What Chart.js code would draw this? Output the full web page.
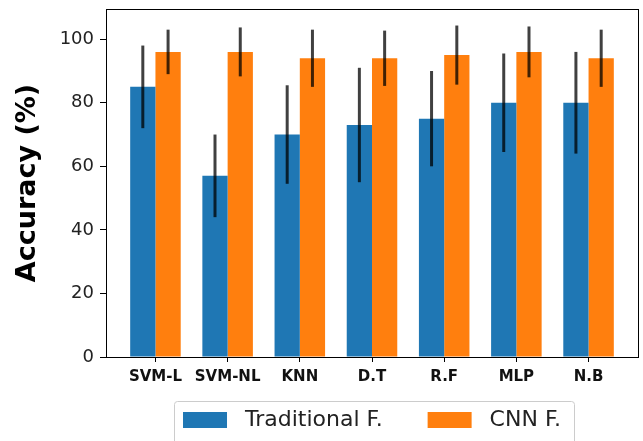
<!DOCTYPE html>
<html>
<head>
<meta charset="utf-8">
<script src="https://cdn.jsdelivr.net/npm/chart.js@4.4.0/dist/chart.umd.min.js"></script>
<style>
  html, body { margin: 0; padding: 0; background: #fff; }
  #wrap { width: 643px; height: 441px; }
</style>
</head>
<body>
<div id="wrap"><canvas id="bar-chart"></canvas></div>
<script>
const categories = ['SVM-L', 'SVM-NL', 'KNN', 'D.T', 'R.F', 'MLP', 'N.B'];
const traditional = [85, 57, 70, 73, 75, 80, 80];
const traditionalErr = [13, 13, 15.5, 18, 15, 15.5, 16];
const cnn = [96, 96, 94, 94, 95, 96, 94];
const cnnErr = [7, 7.7, 9, 8.7, 9.3, 8, 9];
const yTicks = [0, 20, 40, 60, 80, 100];

const barChart = document.getElementById('bar-chart');

function toPoints(values){
  return values.map((v, i) => ({x: i, y: v}));
}

const errorBars = {
  id: 'errorBars',
  afterDatasetsDraw(chart){
    const ctx = chart.ctx;
    const yScale = chart.scales.y;
    ctx.save();
    ctx.strokeStyle = 'rgba(0,0,0,0.75)';
    ctx.lineWidth = 3;
    chart.data.datasets.forEach((ds, d) => {
      const meta = chart.getDatasetMeta(d);
      meta.data.forEach((bar, i) => {
        const v = ds.data[i].y;
        const e = ds.errors[i];
        ctx.beginPath();
        ctx.moveTo(bar.x, yScale.getPixelForValue(v + e));
        ctx.lineTo(bar.x, yScale.getPixelForValue(v - e));
        ctx.stroke();
      });
    });
    ctx.restore();
  }
};

// centre the legend under the plot area, like matplotlib does
const legendShift = {
  id: 'legendShift',
  afterLayout(chart){
    const a = chart.chartArea;
    const lg = chart.legend;
    const dx = (a.left + a.right) / 2 - (lg.left + lg.right) / 2;
    lg.left += dx;
    lg.right += dx;
  }
};

const frame = {
  id: 'frame',
  afterDraw(chart){
    const ctx = chart.ctx;
    const a = chart.chartArea;
    ctx.save();
    ctx.strokeStyle = '#000';
    ctx.lineWidth = 1;
    ctx.strokeRect(a.left + 0.5, a.top + 0.5, a.right - a.left, a.bottom - a.top);
    // legend border
    const boxes = chart.legend.legendHitBoxes;
    if (boxes && boxes.length) {
      let l = Infinity, r = -Infinity, t = Infinity, b = -Infinity;
      boxes.forEach(h => {
        l = Math.min(l, h.left); r = Math.max(r, h.left + h.width);
        t = Math.min(t, h.top); b = Math.max(b, h.top + h.height);
      });
      ctx.strokeStyle = '#cccccc';
      ctx.beginPath();
      ctx.roundRect(Math.round(l) - 8.5, Math.round(t) - 7.5, r - l + 22, b - t + 30, 3);
      ctx.stroke();
    }
    ctx.restore();
  }
};

const data = {
  datasets: [{
    label: 'Traditional F.',
    data: toPoints(traditional),
    errors: traditionalErr,
    backgroundColor: '#1f77b4',
    borderWidth: 0
  }, {
    label: 'CNN F.',
    data: toPoints(cnn),
    errors: cnnErr,
    backgroundColor: '#ff7f0e',
    borderWidth: 0
  }]
};

const config = {
  type: 'bar',
  data,
  options: {
    responsive: true,
    maintainAspectRatio: false,
    animation: false,
    layout: { padding: { top: 9, right: 5, left: 0, bottom: 0 } },
    datasets: { bar: { categoryPercentage: 0.7, barPercentage: 1.0 } },
    scales: {
      x: {
        type: 'linear',
        offset: false,
        min: -0.685,
        max: 6.685,
        afterBuildTicks(scale){
          scale.ticks = categories.map((c, i) => ({value: i}));
        },
        afterFit(scale){ scale.height = 42; scale.paddingLeft = 0; scale.paddingRight = 0; },
        grid: { offset: false, drawOnChartArea: false, drawTicks: true, tickLength: 5, color: '#000' },
        border: { display: true, color: '#000' },
        ticks: {
          autoSkip: false,
          maxRotation: 0,
          padding: 6,
          color: '#111',
          font: { family: 'DejaVu Sans', size: 15, weight: 'bold' },
          callback: (v) => categories[v]
        }
      },
      y: {
        min: 0,
        max: 109.5,
        afterBuildTicks(scale){
          scale.ticks = yTicks.map(v => ({value: v}));
        },
        afterFit(scale){ scale.width = 106; scale.paddingTop = 0; scale.paddingBottom = 0; },
        grid: { drawOnChartArea: false, drawTicks: true, tickLength: 6, color: '#000' },
        border: { display: true, color: '#000' },
        title: {
          display: true,
          text: 'Accuracy (%)',
          color: '#000',
          font: { family: 'DejaVu Sans', size: 27, weight: 'bold' },
          padding: { top: 12, bottom: 0 }
        },
        ticks: {
          padding: 6,
          color: '#222',
          font: { family: 'DejaVu Sans', size: 18 }
        }
      }
    },
    plugins: {
      tooltip: { enabled: false },
      legend: {
        position: 'bottom',
        labels: {
          boxWidth: 44,
          boxHeight: 16,
          padding: 10,
          color: '#222',
          font: { family: 'DejaVu Sans', size: 22 },
          generateLabels(chart){
            const items = Chart.defaults.plugins.legend.labels.generateLabels(chart);
            // wider gaps around the labels, as in the original
            items.forEach(it => { it.text = ' ' + it.text; it.lineWidth = 0; });
            items[0].text = items[0].text + '     ';
            return items;
          }
        }
      }
    }
  },
  plugins: [legendShift, errorBars, frame]
};

const myChart = new Chart(barChart, config);
</script>
</body>
</html>
